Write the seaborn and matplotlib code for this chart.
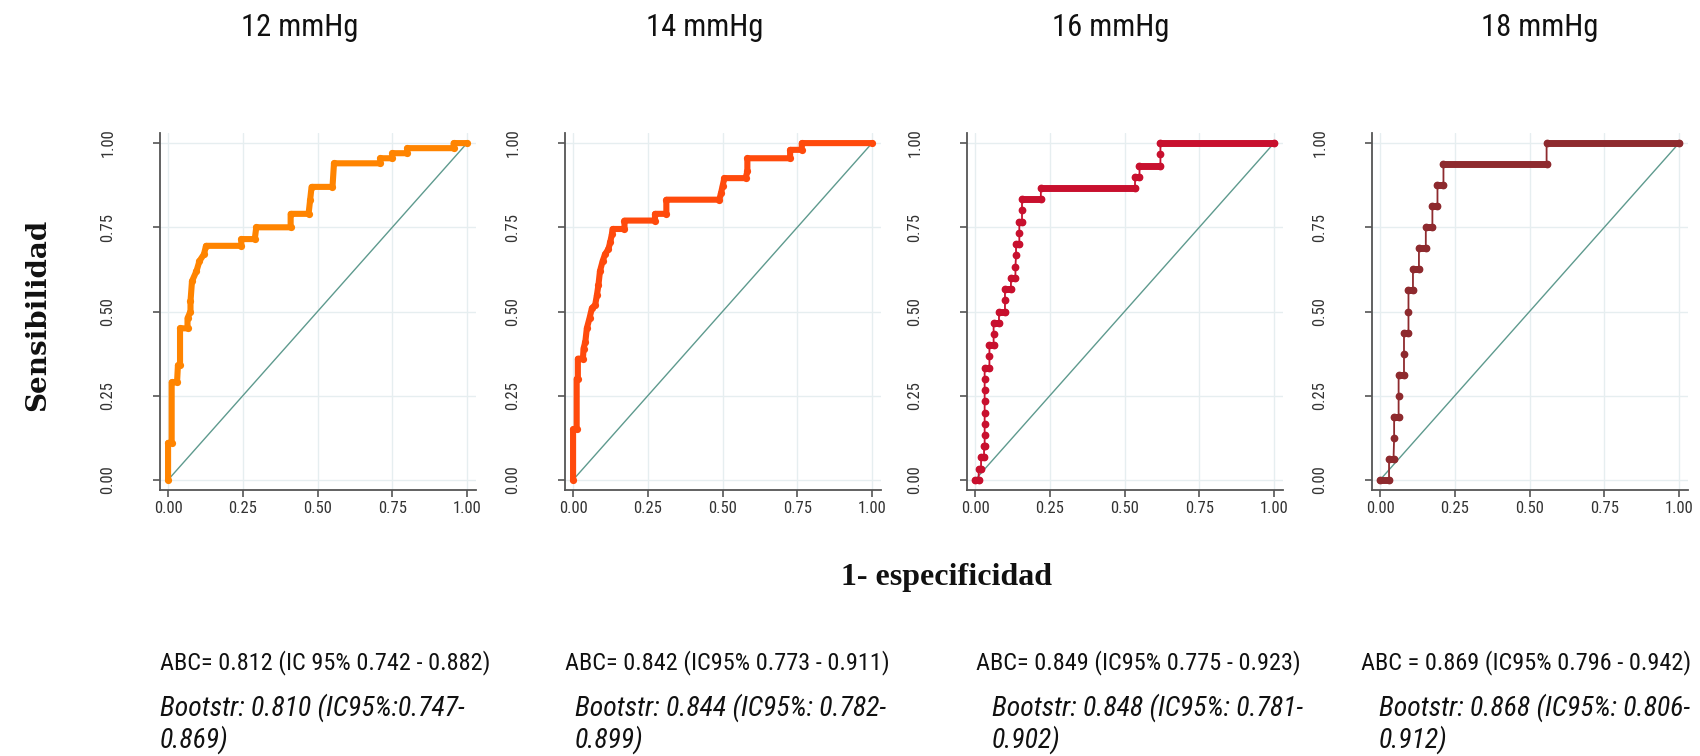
import matplotlib
matplotlib.use("Agg")
import matplotlib.pyplot as plt
import seaborn as sns

# ---------------- data ----------------
titles = ["12 mmHg", "14 mmHg", "16 mmHg", "18 mmHg"]

fpr_12 = [0.0, 0.0, 0.012, 0.012, 0.03, 0.033, 0.04, 0.04, 0.065, 0.065, 0.075, 0.075,
          0.08, 0.095, 0.105, 0.12, 0.127, 0.245, 0.245, 0.29, 0.295, 0.41, 0.41, 0.47,
          0.475, 0.48, 0.55, 0.555, 0.71, 0.71, 0.75, 0.75, 0.80, 0.80, 0.955, 0.955, 1.0]
tpr_12 = [0.0, 0.11, 0.11, 0.29, 0.29, 0.34, 0.34, 0.45, 0.45, 0.48, 0.50, 0.53,
          0.59, 0.62, 0.65, 0.67, 0.695, 0.695, 0.715, 0.715, 0.75, 0.75, 0.79, 0.79,
          0.83, 0.87, 0.87, 0.94, 0.94, 0.955, 0.955, 0.97, 0.97, 0.985, 0.985, 1.0, 1.0]

fpr_14 = [0.0, 0.0, 0.012, 0.012, 0.016, 0.016, 0.033, 0.035, 0.041, 0.046, 0.055, 0.063,
          0.074, 0.08, 0.085, 0.09, 0.099, 0.107, 0.118, 0.124, 0.13, 0.132, 0.172, 0.172,
          0.274, 0.274, 0.312, 0.312, 0.489, 0.495, 0.50, 0.506, 0.577, 0.583, 0.583, 0.726,
          0.726, 0.765, 0.765, 1.0]
tpr_14 = [0.0, 0.15, 0.15, 0.30, 0.30, 0.36, 0.36, 0.39, 0.41, 0.45, 0.48, 0.51,
          0.52, 0.55, 0.58, 0.62, 0.65, 0.67, 0.685, 0.705, 0.73, 0.745, 0.745, 0.77,
          0.77, 0.79, 0.79, 0.832, 0.832, 0.852, 0.872, 0.896, 0.896, 0.916, 0.955, 0.955,
          0.98, 0.98, 1.0, 1.0]

fpr_16 = [0.0, 0.012, 0.012, 0.02, 0.02, 0.03, 0.03, 0.032, 0.032, 0.032, 0.032, 0.032,
          0.032, 0.032, 0.032, 0.048, 0.048, 0.048, 0.062, 0.062, 0.062, 0.08, 0.08, 0.10,
          0.10, 0.10, 0.12, 0.12, 0.135, 0.135, 0.137, 0.137, 0.148, 0.148, 0.148, 0.157,
          0.157, 0.157, 0.22, 0.22, 0.535, 0.535, 0.55, 0.55, 0.62, 0.62, 0.62, 1.0]
tpr_16 = [0.0, 0.0, 0.033, 0.033, 0.067, 0.067, 0.10, 0.10, 0.133, 0.167, 0.20, 0.233,
          0.267, 0.30, 0.333, 0.333, 0.367, 0.40, 0.40, 0.433, 0.467, 0.467, 0.50, 0.50,
          0.533, 0.567, 0.567, 0.60, 0.60, 0.633, 0.667, 0.70, 0.70, 0.733, 0.767, 0.767,
          0.80, 0.833, 0.833, 0.867, 0.867, 0.90, 0.90, 0.933, 0.933, 0.967, 1.0, 1.0]

fpr_18 = [0.0, 0.03, 0.03, 0.045, 0.047, 0.047, 0.062, 0.062, 0.062, 0.08, 0.08, 0.08,
          0.095, 0.095, 0.095, 0.11, 0.11, 0.13, 0.13, 0.153, 0.153, 0.175, 0.175, 0.192,
          0.192, 0.212, 0.212, 0.557, 0.557, 1.0]
tpr_18 = [0.0, 0.0, 0.0625, 0.0625, 0.125, 0.1875, 0.1875, 0.25, 0.3125, 0.3125, 0.375, 0.4375,
          0.4375, 0.5, 0.5625, 0.5625, 0.625, 0.625, 0.6875, 0.6875, 0.75, 0.75, 0.8125, 0.8125,
          0.875, 0.875, 0.9375, 0.9375, 1.0, 1.0]

diag = [0.0, 1.0]
tick_values = [0.0, 0.25, 0.5, 0.75, 1.0]
tick_labels = ["0.00", "0.25", "0.50", "0.75", "1.00"]

abc_texts = ["ABC= 0.812 (IC 95% 0.742 - 0.882)",
             "ABC= 0.842 (IC95% 0.773 - 0.911)",
             "ABC= 0.849 (IC95% 0.775 - 0.923)",
             "ABC = 0.869 (IC95% 0.796 - 0.942)"]
boot_texts = ["Bootstr: 0.810 (IC95%:0.747-\n0.869)",
              "Bootstr: 0.844 (IC95%: 0.782-\n0.899)",
              "Bootstr: 0.848 (IC95%: 0.781-\n0.902)",
              "Bootstr: 0.868 (IC95%: 0.806-\n0.912)"]

curves = [(fpr_12, tpr_12), (fpr_14, tpr_14), (fpr_16, tpr_16), (fpr_18, tpr_18)]

# ---------------- style ----------------
colors = ["#FF8400", "#FF4A0C", "#C8102E", "#8E2A2E"]
dense = [True, True, False, False]
diag_color = "#5E9A8E"
grid_color = "#E6EEF0"

sns.set_style("white")
sans = ["Nimbus Sans Narrow", "Liberation Sans Narrow", "Arial Narrow", "Roboto Condensed",
        "Archivo Narrow", "Liberation Sans", "DejaVu Sans"]
plt.rcParams["font.family"] = sans

W, H = 1700, 756
fig = plt.figure(figsize=(W / 100, H / 100), dpi=100)

lefts = [160, 565, 967, 1372]
ax_w, top, bottom = 316, 133, 490
title_x = [300, 705, 1111, 1540]
abc_x = [160, 565, 976, 1361]
boot_x = [160, 575, 992, 1379]

def fx(px):
    return px / W

def fy(py):
    return 1 - py / H

for i, (fpr, tpr) in enumerate(curves):
    ax = fig.add_axes([fx(lefts[i]), fy(bottom), ax_w / W, (bottom - top) / H])
    ax.set_xlim(-0.027, 1.03)
    ax.set_ylim(-0.03, 1.03)
    ax.set_xticks(tick_values)
    ax.set_yticks(tick_values)
    ax.grid(True, color=grid_color, lw=1.0)
    ax.set_axisbelow(True)

    sns.lineplot(x=diag, y=diag, ax=ax, color=diag_color, lw=1.0, sort=False, estimator=None)
    c = colors[i]
    if dense[i]:
        sns.lineplot(x=fpr, y=tpr, ax=ax, color=c, lw=4.4, sort=False, estimator=None,
                     solid_joinstyle="round", solid_capstyle="round",
                     marker="o", markersize=5.2, markeredgewidth=0)
    else:
        sns.lineplot(x=fpr, y=tpr, ax=ax, color=c, lw=1.3, sort=False, estimator=None,
                     marker="o", markersize=5.6, markeredgewidth=0)
        for j in range(len(fpr) - 1):
            if tpr[j] == tpr[j + 1] and fpr[j + 1] > fpr[j]:
                sns.lineplot(x=[fpr[j], fpr[j + 1]], y=[tpr[j], tpr[j + 1]], ax=ax, color=c,
                             lw=5.0, sort=False, estimator=None, solid_capstyle="round")

    sns.despine(ax=ax)
    for s in ("left", "bottom"):
        ax.spines[s].set_color("#555555")
        ax.spines[s].set_linewidth(1.3)
    ax.set_xlabel("")
    ax.set_ylabel("")
    ax.set_xticklabels(tick_labels, fontsize=12, color="#333333")
    ax.set_yticklabels(tick_labels, fontsize=12, color="#333333", rotation=90, va="center")
    ax.tick_params(axis="x", length=5, width=1.2, color="#555555", pad=3, direction="out", bottom=True)
    ax.tick_params(axis="y", length=5, width=1.2, color="#555555", pad=27, direction="out", left=True)
    if ax.get_legend() is not None:
        ax.get_legend().remove()

    fig.text(fx(title_x[i]), fy(28), titles[i], ha="center", va="center",
             fontsize=22, color="#111111")
    fig.text(fx(abc_x[i]), fy(663), abc_texts[i], ha="left", va="center",
             fontsize=17.5, color="#111111")
    fig.text(fx(boot_x[i]), fy(724), boot_texts[i], ha="left", va="center",
             fontsize=20, color="#111111", style="italic", linespacing=1.15)

fig.text(fx(38), fy(315), "Sensibilidad", rotation=90, ha="center", va="center",
         fontsize=20, fontweight="bold", family=["DejaVu Serif"], color="#111111")
fig.text(fx(946), fy(578), "1- especificidad", ha="center", va="center",
         fontsize=23, fontweight="bold", family=["Liberation Serif", "DejaVu Serif"], color="#111111")

fig.savefig("out.png", dpi=100)
